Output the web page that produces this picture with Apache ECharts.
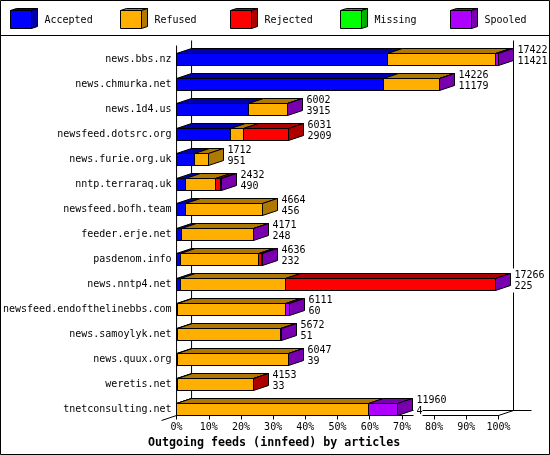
<!DOCTYPE html>
<html><head><meta charset="utf-8">
<style>html,body{margin:0;padding:0;background:#fff}#c{width:550px;height:455px}</style>
<script src="https://cdn.jsdelivr.net/npm/echarts@6/dist/echarts.min.js"></script>
</head><body><div id="c"></div>
<script>
const categories = ["news.bbs.nz","news.chmurka.net","news.1d4.us","newsfeed.dotsrc.org","news.furie.org.uk","nntp.terraraq.uk","newsfeed.bofh.team","feeder.erje.net","pasdenom.info","news.nntp4.net","newsfeed.endofthelinebbs.com","news.samoylyk.net","news.quux.org","weretis.net","tnetconsulting.net"];
const totalLabels = [17422,14226,6002,6031,1712,2432,4664,4171,4636,17266,6111,5672,6047,4153,11960];
const accepted = [11421,11179,3915,2909,951,490,456,248,232,225,60,51,39,33,4];
const refused  = [5861,3042,2082,704,761,1632,4208,3900,4218,5665,5851,5600,6000,4115,10380];
const rejected = [0,0,0,2418,0,271,0,0,130,11350,0,0,0,5,0];
const missing  = [0,0,0,0,0,0,0,0,0,0,0,0,0,0,0];
const spooled  = [140,5,5,0,0,39,0,23,56,26,200,21,8,0,1576];
const statusNames = ["Accepted","Refused","Rejected","Missing","Spooled"];
const statusValues = [accepted,refused,rejected,missing,spooled];
const frontColors = ["#0000FF","#FFAF00","#FF0000","#00FF00","#AF00FF"];
const shadeColors = ["#0000AF","#AF7800","#AF0000","#00AF00","#7800AF"];
const xTicks = 10;
const titleText = "Outgoing feeds (innfeed) by articles";

const FONT = '"DejaVu Sans Mono"';
const DX = 15, DY = 5, BAR_H = 12, AXIS_SHIFT = 6.5;
const maxTotal = Math.max(...totalLabels);
const crisp = v => Math.round(v - 0.5) + 0.5;
const pct = v => v / maxTotal * 100;

const poly = (pts, fill) => ({type:'polygon', shape:{points:pts}, style:{fill, stroke:'#000', lineWidth:1}});

function barSeries(s) {
  const data = categories.map((c, i) => {
    let start = 0;
    for (let k = 0; k < s; k++) start += statusValues[k][i];
    const end = start + statusValues[s][i];
    let last = -1;
    statusValues.forEach((a, k) => { if (a[i] > 0) last = k; });
    return [i, pct(start), pct(end), last === s ? 1 : 0];
  });
  return {
    type:'custom', name:statusNames[s], clip:false, silent:true, data, z:3,
    encode:{x:[1,2], y:0},
    renderItem(p, api) {
      const v = api.value(2) - api.value(1);
      if (v <= 0) return {type:'group', children:[]};
      const a = api.coord([api.value(1), api.value(0)]);
      const b = api.coord([api.value(2), api.value(0)]);
      const x0 = crisp(a[0]), x1 = crisp(b[0]);
      const y1 = crisp(a[1] + BAR_H/2), y0 = y1 - BAR_H;
      const kids = [
        poly([[x0,y0],[x1,y0],[x1+DX,y0-DY],[x0+DX,y0-DY]], shadeColors[s]),
        poly([[x0,y0],[x1,y0],[x1,y1],[x0,y1]], frontColors[s])
      ];
      if (api.value(3)) kids.push(poly([[x1,y0],[x1+DX,y0-DY],[x1+DX,y1-DY],[x1,y1]], shadeColors[s]));
      return {type:'group', children:kids};
    }
  };
}

const wallSeries = {
  type:'custom', clip:false, silent:true, z:1, data:[[0]],
  encode:{x:0},
  renderItem(p, api) {
    const c = p.coordSys;
    const L = c.x, R = c.x + c.width, T = c.y - AXIS_SHIFT, B = c.y + c.height - AXIS_SHIFT;
    const ln = (x1,y1,x2,y2) => ({type:'line', shape:{x1,y1,x2,y2}, style:{stroke:'#000', lineWidth:1, fill:null}});
    return {type:'group', children:[
      ln(L, T+DY, L, B),
      ln(L+DX, T, L+DX, B-DY),
      ln(R+DX, T, R+DX, B-DY),
      ln(L+DX, B-DY, R+DX+18, B-DY),
      ln(L, B, L-DX, B+DY),
      ln(R, B, R+DX, B-DY)
    ]};
  }
};

const labelSeries = {
  type:'custom', clip:false, silent:true, z:5,
  data: categories.map((c, i) => [i, pct(totalLabels[i]), totalLabels[i], accepted[i]]),
  encode:{x:1, y:0},
  renderItem(p, api) {
    const a = api.coord([api.value(1), api.value(0)]);
    const x = crisp(a[0]) + DX + 1;
    const yc = a[1];
    const t = (txt, y) => ({type:'text', style:{text:String(txt), x, y, font:'10px '+FONT, fill:'#000',
      verticalAlign:'middle', align:'left', backgroundColor:'#fff', padding:[1.5,0,1.5,3], lineHeight:10}});
    return {type:'group', children:[t(api.value(2), yc-9.5), t(api.value(3), yc+1.5)]};
  }
};

const legendEls = [];
statusNames.forEach((n, i) => {
  const x = 10.5 + 110*i, y = 10.5, w = 21, h = 18, dx = 6, dy = 2;
  legendEls.push(
    {type:'polygon', shape:{points:[[x,y],[x+w,y],[x+w+dx,y-dy],[x+dx,y-dy]]}, style:{fill:shadeColors[i], stroke:'#000', lineWidth:1}},
    {type:'polygon', shape:{points:[[x+w,y],[x+w+dx,y-dy],[x+w+dx,y+h-dy],[x+w,y+h]]}, style:{fill:shadeColors[i], stroke:'#000', lineWidth:1}},
    {type:'rect', shape:{x,y,width:w,height:h}, style:{fill:frontColors[i], stroke:'#000', lineWidth:1}},
    {type:'text', x:x+34, y:20, style:{text:n, font:'10px '+FONT, fill:'#000', verticalAlign:'middle', align:'left'}}
  );
});
legendEls.push(
  {type:'rect', shape:{x:0.5,y:0.5,width:549,height:454}, style:{fill:null, stroke:'#000', lineWidth:1}, z:-1},
  {type:'line', shape:{x1:0,y1:35.5,x2:550,y2:35.5}, style:{stroke:'#000', lineWidth:1}}
);

const chart = echarts.init(document.getElementById('c'), null, {renderer:'canvas'});
chart.setOption({
  animation:false,
  backgroundColor:'#fff',
  title:{text:titleText, left:148, top:436.5, padding:0,
    textStyle:{fontFamily:FONT, fontSize:11.65, fontWeight:'bold', color:'#000', lineHeight:13}},
  grid:{left:176.5, top:47, width:322, height:375, containLabel:false},
  xAxis:{type:'value', min:0, max:100, interval:xTicks, offset:-AXIS_SHIFT,
    axisLine:{show:true, lineStyle:{color:'#000', width:1}},
    axisTick:{show:true, length:4, lineStyle:{color:'#000', width:1}},
    splitLine:{show:false},
    axisLabel:{show:true, margin:7, formatter:'{value}%', hideOverlap:false, showMinLabel:true, showMaxLabel:true,
      fontFamily:FONT, fontSize:10, color:'#000'}},
  yAxis:{type:'category', data:categories, inverse:true,
    axisLine:{show:false}, axisTick:{show:false}, splitLine:{show:false},
    axisLabel:{interval:0, margin:5, fontFamily:FONT, fontSize:10, color:'#000', align:'right'}},
  graphic:{elements:legendEls},
  series:[wallSeries, ...statusNames.map((n,i)=>barSeries(i)), labelSeries]
});
</script></body></html>
